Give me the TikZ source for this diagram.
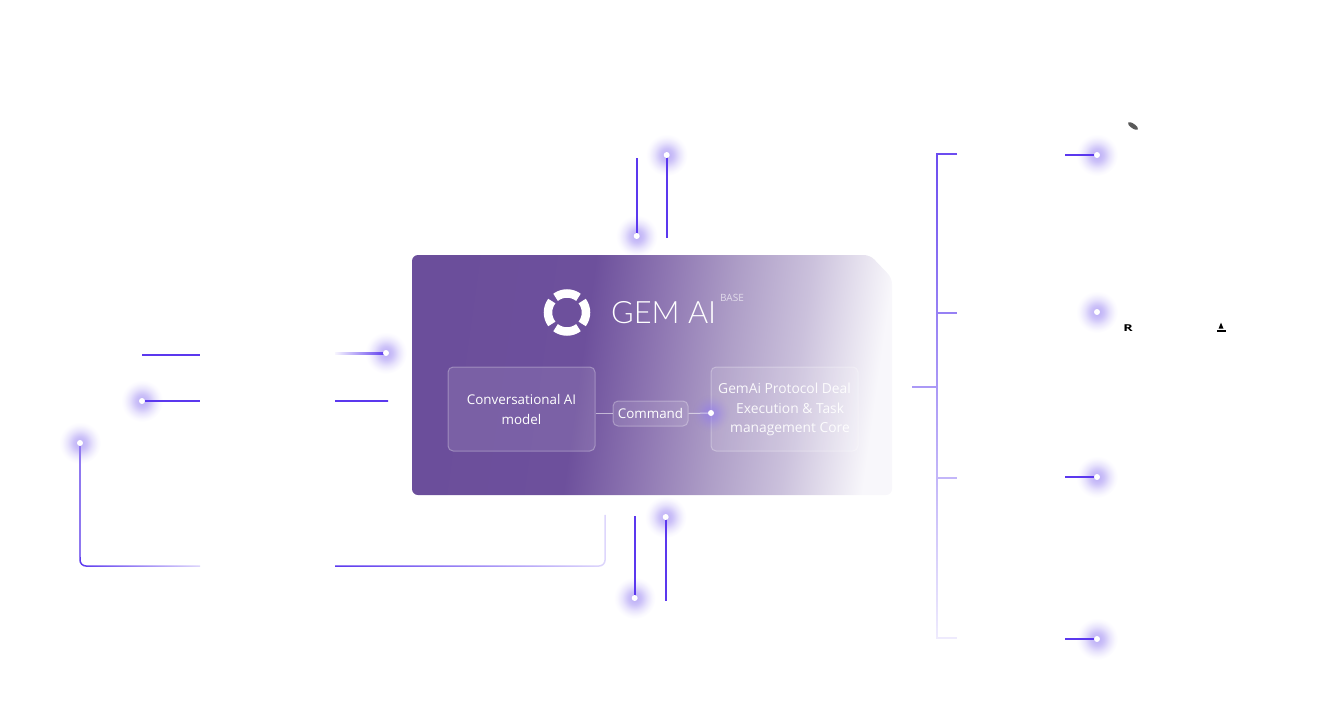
\documentclass[tikz,border=0pt]{standalone}
\usepackage{fontspec}
\setmainfont{Open Sans}
\newfontfamily\gemfont{Lato Light}
\usetikzlibrary{fadings,shapes.geometric}
\definecolor{linepurple}{HTML}{5B38EE}
\definecolor{glowpurple}{HTML}{8F78F0}
\definecolor{carda}{HTML}{6B4E9B}
\definecolor{cardb}{HTML}{6D509C}
\definecolor{cardc}{HTML}{8E76B2}
\definecolor{cardd}{HTML}{AE9EC7}
\definecolor{carde}{HTML}{CBC1DC}
\definecolor{cardf}{HTML}{F8F7FB}
\pgfdeclarehorizontalshading{cardshade}{100bp}{
 color(0bp)=(carda); color(25bp)=(carda); color(42bp)=(cardb);
 color(50bp)=(cardc); color(58bp)=(cardd); color(66bp)=(carde);
 color(75bp)=(cardf); color(100bp)=(cardf)}
\pgfdeclareradialshading{glowshade}{\pgfpointorigin}{
 color(0bp)=(pgftransparent!38); color(8bp)=(pgftransparent!55);
 color(15bp)=(pgftransparent!80); color(21bp)=(pgftransparent!95); color(25bp)=(pgftransparent!100); color(50bp)=(pgftransparent!100)}
\pgfdeclarefading{glowfade}{\pgfuseshading{glowshade}}
\tikzfading[name=fadeeast,left color=transparent!0,right color=transparent!80]
\tikzfading[name=fadesouth,top color=transparent!10,bottom color=transparent!90]
\tikzset{
 glow/.style={circle,minimum size=42pt,inner sep=0pt,fill=glowpurple,path fading=glowfade},
 dot/.style={circle,minimum size=6pt,inner sep=0pt,fill=white},
 wire/.style={draw=linepurple,line width=1.5pt},
 thickwire/.style={draw=linepurple,line width=1.8pt},
 innerbox/.style={draw=white,draw opacity=.3,fill=white,fill opacity=.1,rounded corners=5pt,line width=1pt},
 boxtext/.style={text=white,font=\fontsize{13.4}{20}\selectfont},
 coretext/.style={text=white,opacity=.92,anchor=west,inner sep=0pt,font=\fontsize{13.8}{20}\selectfont}
}
\begin{document}
\begin{tikzpicture}[x=1pt,y=-1pt]
\useasboundingbox (0,0) rectangle (1320,715);
%glows and dots
\foreach \nm/\px/\py in {topa/666.7/155,topb/636.7/236,lefta/386/353,leftb/142/401,leftc/80/443,
  righta/1097/155,rightb/1097/312,rightc/1097/477,rightd/1097/639,bota/665.7/517,botb/634.7/598}{
  \node[glow] (glow\nm) at (\px,\py) {};
}
%card
\shade[shading=cardshade,shading angle=-8,rounded corners=6pt] (412,255) -- (870,255) -- (892,278) -- (892,495) -- (412,495) -- cycle;
%logo
\coordinate (logo) at (567,312.5);
\foreach \ang in {0,90,180,270}{
  \draw[white,line width=8.5pt] (logo) ++(\ang-37:19) arc[start angle=\ang-37,end angle=\ang+37,radius=19];
}
\node[text=white,font=\gemfont\fontsize{30.8}{32}\selectfont,anchor=west,inner sep=0pt] (gemtitle) at (611,312.5) {GEM AI};
\node[text=white,opacity=.65,font=\fontsize{10}{11}\selectfont,inner sep=0pt] (basetag) at (732,297.5) {BASE};
%boxes
\node[innerbox,minimum width=147pt,minimum height=84pt] (convbox) at (521.5,409) {};
\node[boxtext,align=center] (convtext) at (521.5,409.5) {Conversational AI\\model};
\node[innerbox,minimum width=147pt,minimum height=84pt] (corebox) at (784.5,409) {};
\node[innerbox,minimum width=75pt,minimum height=25pt] (cmdbox) at (650.5,413.5) {};
\node[boxtext] (cmdtext) at (650.5,413.5) {Command};
\node[glow,minimum size=38pt] (glowcore) at (711,413) {};
\node[dot] (dotcore) at (711,413) {};
\draw[white,opacity=.55,line width=1pt] (convbox.east |- cmdbox.west) -- (cmdbox.west);
\draw[white,opacity=.55,line width=1pt] (cmdbox.east) -- (dotcore);
\node[coretext] (corea) at (718,388) {GemAi Protocol Deal};
\node[coretext] (coreb) at (736,408) {Execution \& Task};
\node[coretext] (corec) at (730,429.5) {management Core};
%top and bottom pairs
\coordinate (topaend) at (666.7,238);
\coordinate (topbend) at (636.7,158);
\coordinate (botaend) at (665.7,601);
\coordinate (botbend) at (634.7,516);
\draw[thickwire] (glowtopa.center) -- (topaend);
\draw[thickwire] (topbend) -- (glowtopb.center);
\draw[thickwire] (glowbota.center) -- (botaend);
\draw[thickwire] (botbend) -- (glowbotb.center);
%left side
\coordinate (lefte) at (142,354.7);
\coordinate (leftf) at (200,354.7);
\coordinate (leftg) at (200,401);
\coordinate (lefth) at (335,353.5);
\coordinate (lefti) at (335,401);
\coordinate (leftj) at (388,401);
\coordinate (leftk) at (200,566);
\coordinate (leftl) at (80,557);
\coordinate (leftm) at (335,566);
\coordinate (leftn) at (605,515);
\draw[thickwire] (lefte) -- (leftf);
\draw[wire] (glowleftb.center) -- (leftg);
\shade[left color=linepurple!5,middle color=linepurple!60,right color=linepurple] ([yshift=-.55pt]lefth) rectangle ([yshift=.55pt]glowlefta.center);
\shade[left color=linepurple,middle color=linepurple!55,right color=linepurple] ([yshift=-.65pt]lefti) rectangle ([yshift=.65pt]leftj);
\draw[draw=glowpurple,line width=1.5pt] (glowleftc.center) -- (leftl);
\draw[wire,path fading=fadeeast,rounded corners=6pt] (leftl) |- (leftk);
\draw[wire,path fading=fadeeast,rounded corners=6pt] (leftm) -| (leftn);
%right bracket
\coordinate (brtop) at (957,153.5);
\coordinate (brb) at (957,313);
\coordinate (brc) at (957,478);
\coordinate (brbot) at (957,638);
\coordinate (brin) at (912,387);
\coordinate (brline) at (937,153.5);
\draw[wire,path fading=fadesouth] (brtop) -- (brline) -- (brline |- brbot) -- (brbot)
  (brline |- brb) -- (brb) (brline |- brc) -- (brc) (brin) -- (brline |- brin);
\foreach \nm in {a,c,d}{
  \draw[wire] (glowright\nm.center) -- ++(-32,0);
}
%dots on top
\foreach \nm in {topa,topb,lefta,leftb,leftc,righta,rightb,rightc,rightd,bota,botb}{
  \node[dot] (dot\nm) at (glow\nm.center) {};
}
%clipped logos
\node[ellipse,fill=black!65,rotate=-35,minimum width=12pt,minimum height=4.5pt,inner sep=0pt] (blurmark) at (1133,126) {};
\node[font=\bfseries\fontsize{9.5}{10}\selectfont,inner sep=0pt,transform shape,xscale=1.5] (rmark) at (1128,328.5) {R};
\node[isosceles triangle,fill=black,shape border rotate=90,minimum size=5pt,inner sep=0pt] (shipsail) at (1221,327) {};
\node[fill=black,minimum width=9pt,minimum height=2.5pt,inner sep=0pt] (shiphull) at (1221,331) {};
\end{tikzpicture}
\end{document}
